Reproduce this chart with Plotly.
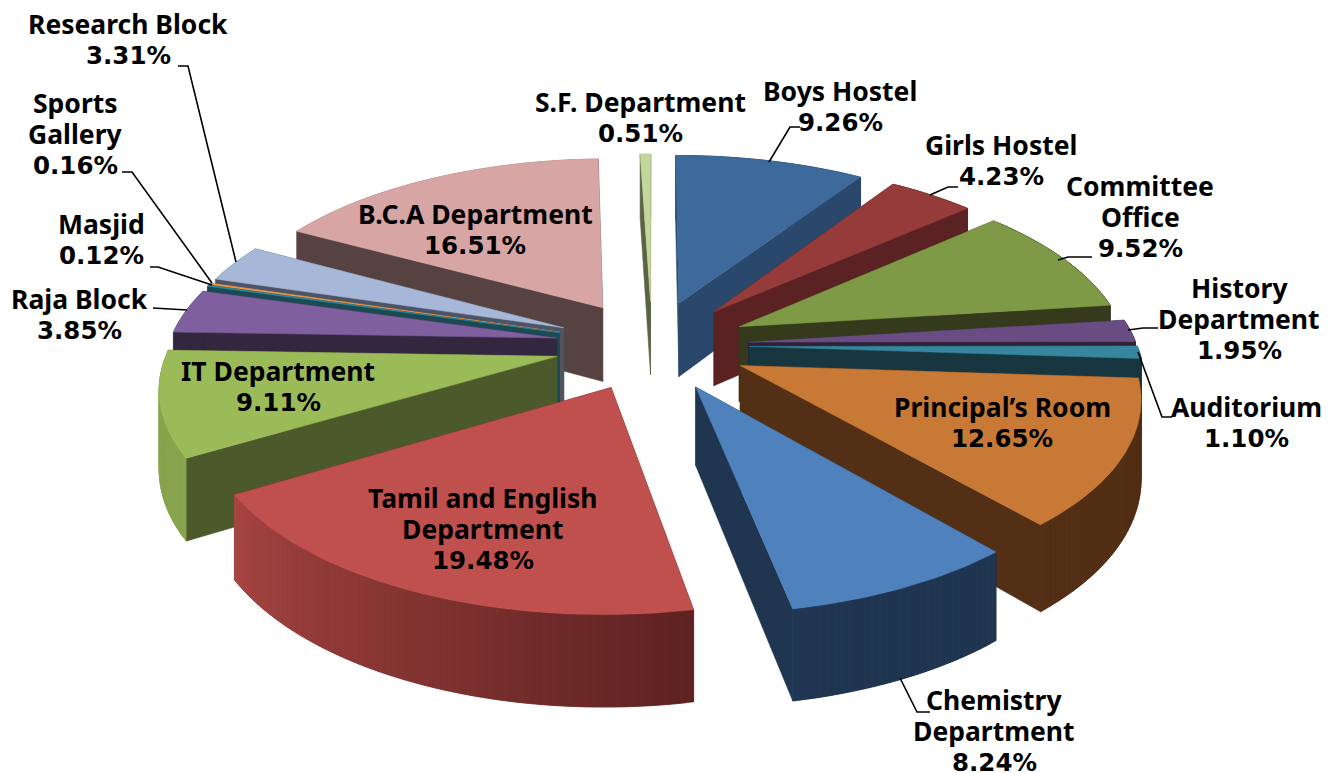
import numpy as np
import plotly.graph_objects as go

# slices, clockwise from 12 o'clock
names = ["Boys Hostel", "Girls Hostel", "Committee<br>Office", "History<br>Department", "Auditorium",
         "Principal’s Room", "Chemistry<br>Department", "Tamil and English<br>Department", "IT Department",
         "Raja Block", "Masjid", "Sports<br>Gallery", "Research Block", "B.C.A Department", "S.F. Department"]
values = [9.26, 4.23, 9.52, 1.95, 1.10, 12.65, 8.24, 19.48, 9.11, 3.85, 0.12, 0.16, 3.31, 16.51, 0.51]
top_colors = ["#3e6a9b", "#953b3a", "#7e9a47", "#694d82", "#37869f", "#c77935", "#4f81bd", "#c0504d",
              "#9bbb59", "#7f5f9e", "#2f8a9e", "#f79646", "#a7b7d7", "#d8a5a5", "#c3d69b"]
wall_colors = ["#2a476c", "#5a2222", "#353a1c", "#2e2238", "#17363f", "#522f15", "#1f3550", "#5a2120",
               "#4c5a2b", "#33263f", "#1b4a55", "#8a5a30", "#4c5568", "#564341", "#5a6344"]

# label centres in page pixels
label_x = [840, 1001, 1140, 1239, 1246, 1002, 994, 483, 278, 79, 101, 75, 128, 475, 640]
label_y = [107, 161, 217, 319, 423, 423, 731, 529, 387, 315, 240, 134, 40, 230, 118]

leaders = [
    [(769, 162), (790, 127), (800, 127)],
    [(930, 195), (948, 187), (958, 187)],
    [(1058, 260), (1068, 257), (1092, 257)],
    [(1128, 330), (1143, 328), (1158, 328)],
    [(1138, 352), (1162, 417), (1172, 417)],
    [(900, 678), (917, 712), (930, 712)],
    [(153, 308), (187, 310)],
    [(150, 267), (158, 267), (212, 285)],
    [(122, 172), (132, 172), (212, 283)],
    [(178, 66), (188, 66), (236, 262)],
]

# pie geometry
CX, CY = 652, 345
SCALE, TILT, PERSP = 388, 0.465, 0.145
PULL, HEIGHT = 0.25, 76
LINE_GAP = 31.5
BODY_MARGIN = 8  # the page keeps its default body margin


def project(x, y, z=0.0):
    w = 1 / (1 + PERSP * y)
    return CX + SCALE * x * w, CY - SCALE * TILT * y * w + HEIGHT * z * w


def hex_rgb(c):
    return np.array([int(c[i:i + 2], 16) for i in (1, 3, 5)], dtype=float)


def mix(a, b, t):
    r, g, bl = hex_rgb(a) * (1 - t) + hex_rgb(b) * t
    return "#%02x%02x%02x" % (int(r), int(g), int(bl))


def poly(fig, pts, color, name):
    xs = [p[0] for p in pts]
    ys = [p[1] for p in pts]
    fig.add_trace(go.Scatter(x=xs + xs[:1], y=ys + ys[:1], mode="lines", fill="toself",
                             fillcolor=color, line=dict(color=color, width=0.5), name=name,
                             hoverinfo="name", showlegend=False))


def draw_slice(fig, name, value, start, top, wall):
    a0, a1 = np.radians(start), np.radians(start + value * 3.6)
    mid = (a0 + a1) / 2
    ax, ay = PULL * np.sin(mid), PULL * np.cos(mid)
    angs = np.linspace(a0, a1, max(3, int(np.degrees(a1 - a0)) + 2))
    rx, ry = ax + np.sin(angs), ay + np.cos(angs)
    light = mix(top, "#000000", 0.12)
    n = len(angs)

    # back of the rim, then the cut walls, then the front of the rim
    for back in (True, False):
        if not back:
            for a in (a0, a1):
                ex, ey = ax + np.sin(a), ay + np.cos(a)
                poly(fig, [project(ax, ay), project(ex, ey), project(ex, ey, 1), project(ax, ay, 1)], wall, name)
        for i in range(n - 1):
            if (np.cos((angs[i] + angs[i + 1]) / 2) > 0) != back:
                continue
            # each strip runs on under the next one so no seams show
            j = min(i + 2, n - 1)
            t = np.clip((np.degrees(angs[i]) - 165) / 75, 0, 1)
            arc = [project(rx[k], ry[k]) for k in range(i, j + 1)]
            low = [project(rx[k], ry[k], 1) for k in range(j, i - 1, -1)]
            poly(fig, arc + low, mix(wall, light, t), name)

    # top face
    poly(fig, [project(ax, ay)] + [project(x, y) for x, y in zip(rx, ry)], top, name)


fig = go.Figure()
starts = np.concatenate([[0], np.cumsum(values)[:-1]]) * 3.6
depth = [np.cos(np.radians(s + v * 1.8)) for s, v in zip(starts, values)]
for i in np.argsort(depth)[::-1]:
    draw_slice(fig, names[i].replace("<br>", " "), values[i], starts[i], top_colors[i], wall_colors[i])

for pts in leaders:
    fig.add_trace(go.Scatter(x=[p[0] for p in pts], y=[p[1] for p in pts], mode="lines",
                             line=dict(color="black", width=1.6), hoverinfo="skip", showlegend=False))

for name, v, x, y in zip(names, values, label_x, label_y):
    lines = name.split("<br>")
    count = len(lines) + 1
    for k, line in enumerate(lines):
        fig.add_annotation(x=x, y=y + (k - (count - 1) / 2) * LINE_GAP, text=f"<b>{line}</b>", showarrow=False,
                           font=dict(family="Noto Sans", size=26.5, color="black"))
    # the percent figures run wider than the names
    fig.add_annotation(x=x, y=y + (count - 1) / 2 * LINE_GAP, text=f"<b>{v:.2f}%</b>", showarrow=False,
                       font=dict(family="DejaVu Sans", size=24.5, color="black"))

fig.update_layout(
    width=1338 - BODY_MARGIN, height=773 - BODY_MARGIN, margin=dict(l=0, r=0, t=0, b=0),
    paper_bgcolor="white", plot_bgcolor="white", showlegend=False,
    xaxis=dict(range=[BODY_MARGIN, 1338], visible=False, fixedrange=True),
    yaxis=dict(range=[773, BODY_MARGIN], visible=False, fixedrange=True),
)
fig.write_html("out.html")
